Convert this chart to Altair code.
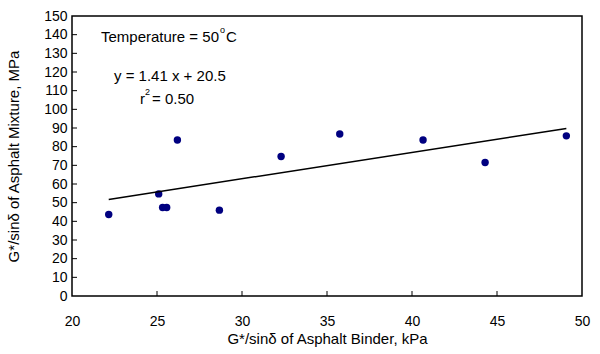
import altair as alt
import pandas as pd

binder = [22.16, 25.1, 25.33, 25.57, 26.2, 28.67, 32.3, 35.75, 40.65, 44.3, 49.08]
mixture = [43.7, 54.7, 47.4, 47.4, 83.6, 46.0, 74.7, 86.8, 83.6, 71.5, 85.8]
slope = 1.41
intercept = 20.5
x_ticks = [20, 25, 30, 35, 40, 45, 50]
y_ticks = list(range(0, 151, 10))

W, H = 510, 280
FONT = "Liberation Sans"

df = pd.DataFrame({"x": binder, "y": mixture})
xmin, xmax = min(binder), max(binder)
trend = pd.DataFrame({"x": [xmin, xmax], "y": [slope * xmin + intercept, slope * xmax + intercept]})

xs = alt.Scale(domain=[20, 50], nice=False, zero=False)
ys = alt.Scale(domain=[0, 150], nice=False)

xaxis = alt.Axis(values=x_ticks, ticks=False, domain=False, grid=False, labelOverlap=False,
                 labelFontSize=14, labelFont=FONT, labelColor="black", labelPadding=18,
                 labelFlush=False, format="d",
                 title="G*/sinδ of Asphalt Binder, kPa", titleFont=FONT, titleFontSize=15,
                 titleFontWeight="normal", titleColor="black", titlePadding=3)
yaxis = alt.Axis(values=y_ticks, ticks=False, domain=False, grid=False, labelOverlap=False,
                 labelFontSize=14, labelFont=FONT, labelColor="black", labelPadding=5,
                 labelFlush=False, format="d",
                 title="G*/sinδ of Asphalt Mixture, MPa", titleFont=FONT, titleFontSize=15,
                 titleFontWeight="normal", titleColor="black", titlePadding=22)

points = alt.Chart(df).mark_circle(size=55, color="#000080", opacity=1).encode(
    x=alt.X("x:Q", scale=xs, axis=xaxis),
    y=alt.Y("y:Q", scale=ys, axis=yaxis),
)

line = alt.Chart(trend).mark_line(color="black", strokeWidth=1.5).encode(
    x=alt.X("x:Q", scale=xs, axis=xaxis), y=alt.Y("y:Q", scale=ys, axis=yaxis)
)

xt = pd.DataFrame({"x": x_ticks[1:-1]})
xtick_marks = alt.Chart(xt).mark_rule(color="black", strokeWidth=1).encode(
    x=alt.X("x:Q", scale=xs, axis=xaxis), y=alt.value(H), y2=alt.value(H - 5)
)
yt = pd.DataFrame({"y": y_ticks[1:-1]})
ytick_marks = alt.Chart(yt).mark_rule(color="black", strokeWidth=1).encode(
    y=alt.Y("y:Q", scale=ys, axis=yaxis), x=alt.value(0), x2=alt.value(5)
)

frame = alt.Chart(pd.DataFrame({"a": [0]})).mark_rect(
    fill=None, fillOpacity=0, stroke="black", strokeWidth=1.5
).encode(x=alt.value(0), x2=alt.value(W), y=alt.value(0), y2=alt.value(H))

def label(txt, px, py, size=15):
    return alt.Chart(pd.DataFrame({"t": [txt]})).mark_text(
        align="left", baseline="middle", font=FONT, fontSize=size, color="black"
    ).encode(text="t:N", x=alt.value(px), y=alt.value(py))

texts = (label("Temperature = 50", 29, 21)
         + label("o", 148, 14, 9)
         + label("C", 154, 21)
         + label("y = 1.41 x + 20.5", 42, 60)
         + label("r", 68, 83)
         + label("2", 73, 76, 9)
         + label("= 0.50", 80, 83))

chart = alt.layer(points, line, xtick_marks, ytick_marks, frame, texts).properties(
    width=W, height=H,
    padding={"left": 72, "top": 16, "right": 18, "bottom": 58},
    autosize=alt.AutoSizeParams(type="none"),
    background="white",
).configure_view(stroke=None)

chart.save("out.html", embed_options={"renderer": "svg", "actions": False})
